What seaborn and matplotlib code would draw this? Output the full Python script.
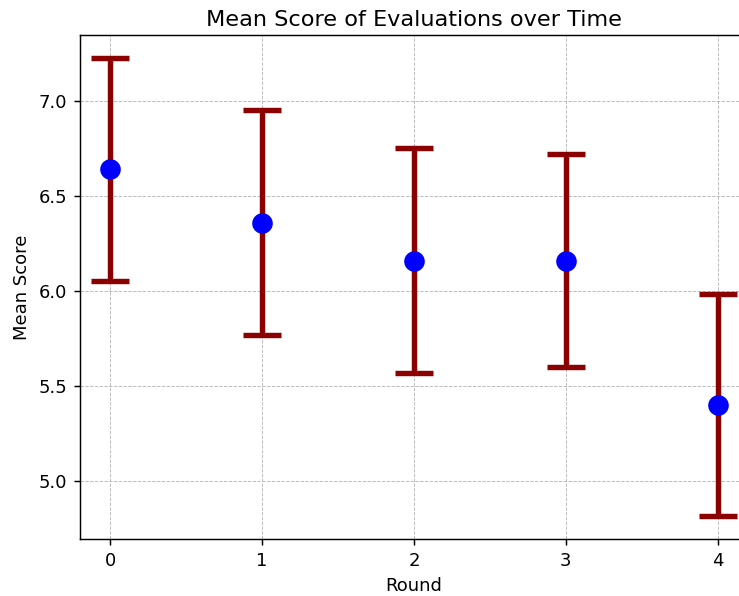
import matplotlib
matplotlib.use("Agg")
import matplotlib.pyplot as plt
import seaborn as sns
import numpy as np

# values
rounds = [0, 1, 2, 3, 4]
mean_scores = [6.64, 6.36, 6.16, 6.16, 5.40]
score_err = [0.587, 0.593, 0.593, 0.56, 0.584]

fig = plt.figure(figsize=(739 / 130, 596 / 130), dpi=130)
# axes runs past the image edge (right spine cut off in the reference)
ax = fig.add_axes([80 / 739, 57 / 596, 668 / 739, 504 / 596])

ax.errorbar(rounds, mean_scores, yerr=score_err, fmt='none',
            ecolor='darkred', elinewidth=3, capsize=10.5, capthick=3, zorder=2)
sns.scatterplot(x=rounds, y=mean_scores, color='blue', s=130,
                linewidth=0, ax=ax, zorder=3)

ax.set_xticks(rounds)
ax.set_xlim(-0.2, 4.2)
ax.set_ylim(4.695, 7.347)
ax.spines['right'].set_visible(False)
ax.grid(True, linestyle='--', linewidth=0.5, color='#b0b0b0', alpha=0.9)
ax.set_title("Mean Score of Evaluations over Time", fontsize=12.4, pad=5)
ax.set_xlabel("Round")
ax.set_ylabel("Mean Score")

fig.savefig("out.png", dpi=130)
